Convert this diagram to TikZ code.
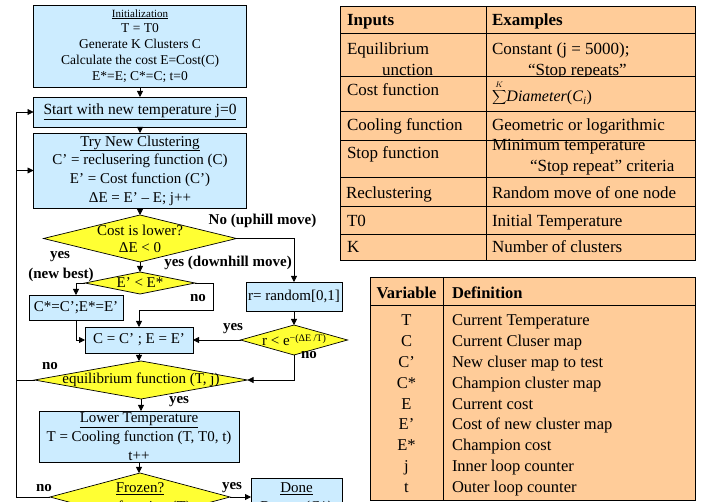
\documentclass[tikz,border=0pt]{standalone}
\usepackage{fontspec}
\setmainfont{Liberation Serif}
\usetikzlibrary{arrows.meta,shapes.geometric}
\definecolor{boxblue}{HTML}{CCECFF}
\definecolor{diayellow}{HTML}{FFFF33}
\definecolor{peach}{HTML}{FFCC99}
\newcommand{\myfs}[2]{\fontsize{#1}{#2}\selectfont}
\begin{document}
\begin{tikzpicture}[x=1pt,y=-1pt,
 every node/.style={inner sep=0pt, outer sep=0pt},
 fbox/.style={draw=black, line width=0.7pt, fill=boxblue, rectangle, align=center, font=\myfs{15}{18.7}},
 dia/.style={draw=black, line width=0.7pt, fill=diayellow, diamond},
 txt/.style={align=center, font=\myfs{15}{17}},
 lbl/.style={font=\bfseries\myfs{15}{18}},
 arr/.style={draw=black, line width=0.8pt, -{Triangle[length=6pt,width=6pt]}},
 ln/.style={draw=black, line width=0.8pt},
 trow/.style={draw=black, line width=0.8pt, fill=peach},
 ta/.style={anchor=base west, font=\myfs{17}{20}},
 tb/.style={anchor=base west, font=\bfseries\myfs{17}{20}},
 vc/.style={anchor=base, font=\myfs{16.5}{20}},
 vd/.style={anchor=base west, font=\myfs{16.5}{20}},
]
\useasboundingbox (0,0) rectangle (702,502);
\clip (0,0) rectangle (702,502);

% ---------------- flowchart ----------------
\node[fbox, minimum width=213pt, minimum height=82pt, font=\myfs{13.5}{15.8}] (init) at (140,46)
 {{\myfs{11}{15.8}\underline{Initialization}}\\T = T0\\Generate K Clusters C\\Calculate the cost E=Cost(C)\\E*=E; C*=C; t=0};
\node[fbox, minimum width=213pt, minimum height=30pt, font=\myfs{15.5}{18}] (start) at (140,112)
 {\underline{Start with new temperature j=0}};
\node[fbox, minimum width=213pt, minimum height=75pt] (try) at (140,170.5)
 {\underline{Try New Clustering}\\C’ = reclusering function (C)\\E’ = Cost function (C’)\\ΔE = E’ – E; j++};
\node[dia, minimum width=193pt, minimum height=47pt] (d1) at (140,238.5) {};
\node[txt] (d1t) at (d1) {Cost is lower?\\ΔE < 0};
\node[dia, minimum width=110pt, minimum height=22pt] (d2) at (140,283) {};
\node[txt] (d2t) at (d2) {E’ < E*};
\node[fbox, minimum width=94pt, minimum height=25pt] (cstar) at (76,307.5) {C*=C’;E*=E’};
\node[fbox, minimum width=108pt, minimum height=26pt] (cc) at (139,340) {C = C’ ; E = E’};
\node[fbox, minimum width=96pt, minimum height=29pt] (rand) at (294,296.5) {r= random[0,1]};
\node[dia, minimum width=107pt, minimum height=30pt] (d3) at (294,340) {};
\node[txt] (d3t) at (294,340) {r < e\raisebox{4pt}{\myfs{10}{10}−(ΔE /T)}};
\node[dia, minimum width=213pt, minimum height=38pt] (d4) at (141,380) {};
\node[txt] (d4t) at (d4) {equilibrium function (T, j)};
\node[fbox, minimum width=200pt, minimum height=51pt, font=\myfs{15}{19}] (lower) at (139,436.5)
 {\underline{Lower Temperature}\\T = Cooling function (T, T0, t)\\t++};
\node[dia, minimum width=180pt, minimum height=48pt] (d5) at (140,497) {};
\node[txt, font=\myfs{15}{19}] (d5t) at (140,499) {\underline{Frozen?}\\stop function (T)};
\node[fbox, minimum width=91pt, minimum height=42pt, font=\myfs{15}{19}] (done) at (296.5,499) {\underline{Done}\\Return (C*)};

\coordinate (loopx) at (16,0);
\coordinate (n1) at (213,310);

\draw[arr] (init.south) -- (start.north);
\draw[arr] (start.south) -- (try.north);
\draw[arr] (try.south) -- (d1.north);
\draw[arr] (d1.east) -| (rand.north);
\draw[arr] (d1.south) -- (d2.north);
\draw[arr] (d2.west) -| (cstar.north);
\draw[arr] (d2.east) -| (n1) -| (cc.north);
\draw[arr] (cstar.south) |- (cc.west);
\draw[arr] (rand.south) -- (d3.north);
\draw[arr] (d3.west) -- (cc.east);
\draw[arr] (d3.south) |- (d4.east);
\draw[arr] (cc.south) -- (cc.south |- d4.north);
\draw[arr] (d4.west) -- (d4.west -| loopx) |- (try.west);
\draw[arr] (d4.south) -- (d4.south |- lower.north);
\draw[arr] (lower.south) -- (lower.south |- d5.north);
\draw[arr] (d5.west) -- (d5.west -| loopx) |- (start.west);
\draw[arr] (d5.east) -- (d5.east -| done.west);

\node[lbl] (l1) at (262.5,221) {No (uphill move)};
\node[lbl] (l2) at (228,263) {yes (downhill move)};
\node[lbl] (l3) at (60,257) {yes};
\node[lbl] (l4) at (61,275) {(new best)};
\node[lbl] (l5) at (198,298) {no};
\node[lbl] (l6) at (233,329) {yes};
\node[lbl] (l7) at (309,355) {no};
\node[lbl] (l8) at (50,366) {no};
\node[lbl] (l9) at (179,402) {yes};
\node[lbl] (l10) at (44,488) {no};
\node[lbl] (l11) at (232,488) {yes};

% ---------------- inputs table ----------------
\draw[trow] (340,6) rectangle (486,33); \draw[trow] (486,6) rectangle (695,33);
\node[tb] (h1) at (347,26) {Inputs};
\node[tb] (h2) at (492,26) {Examples};
\draw[trow] (340,33) rectangle (486,76); \draw[trow] (486,33) rectangle (695,76);
\node[ta] (a1) at (347,55) {Equilibrium};
\node[ta] (a1b) at (382,76) {unction};
\node[ta] (b1) at (492,55) {Constant (j = 5000);};
\node[ta] (b1b) at (528,76) {“Stop repeats”};
\draw[trow] (340,76) rectangle (486,111); \draw[trow] (486,76) rectangle (695,111);
\node[ta] (a2) at (347,96) {Cost function};
\node[ta, font=\myfs{16}{20}] (b2) at (492,102) {$\displaystyle\sum^{\scriptscriptstyle K}$\textit{Diameter}(\textit{C}\textsubscript{\textit{i}})};
\draw[trow] (340,111) rectangle (486,140); \draw[trow] (486,111) rectangle (695,140);
\node[ta] (a3) at (347,131) {Cooling function};
\node[ta] (b3) at (492,131) {Geometric or logarithmic};
\draw[trow] (340,140) rectangle (486,177); \draw[trow] (486,140) rectangle (695,177);
\node[ta] (a4) at (347,159) {Stop function};
\node[ta] (b4) at (492,151) {Minimum temperature};
\node[ta] (b4b) at (530,172) {“Stop repeat” criteria};
\draw[trow] (340,177) rectangle (486,206); \draw[trow] (486,177) rectangle (695,206);
\node[ta] (a5) at (346,199) {Reclustering};
\node[ta] (b5) at (492,199) {Random move of one node};
\draw[trow] (340,206) rectangle (486,234); \draw[trow] (486,206) rectangle (695,234);
\node[ta] (a6) at (347,227) {T0};
\node[ta] (b6) at (492,227) {Initial Temperature};
\draw[trow] (340,234) rectangle (486,260); \draw[trow] (486,234) rectangle (695,260);
\node[ta] (a7) at (347,253) {K};
\node[ta] (b7) at (492,253) {Number of clusters};

% ---------------- variables table ----------------
\draw[trow] (370,277) rectangle (695,500);
\draw[ln] (370,305) -- (695,305);
\draw[ln] (443,277) -- (443,500);
\node[vc, font=\bfseries\myfs{16.5}{20}] (vh) at (406.5,299) {Variable};
\node[vd, font=\bfseries\myfs{16.5}{20}] (dh) at (452,299) {Definition};
\node[vc] (v1) at (406.5,326) {T};   \node[vd] (e1) at (452,326) {Current Temperature};
\node[vc] (v2) at (406.5,347) {C};   \node[vd] (e2) at (452,347) {Current Cluser map};
\node[vc] (v3) at (406.5,368) {C’};  \node[vd] (e3) at (452,368) {New cluser map to test};
\node[vc] (v4) at (406.5,389) {C*};  \node[vd] (e4) at (452,389) {Champion cluster map};
\node[vc] (v5) at (406.5,410) {E};   \node[vd] (e5) at (452,410) {Current cost};
\node[vc] (v6) at (406.5,430) {E’};  \node[vd] (e6) at (452,430) {Cost of new cluster map};
\node[vc] (v7) at (406.5,451) {E*};  \node[vd] (e7) at (452,451) {Champion cost};
\node[vc] (v8) at (406.5,472) {j};   \node[vd] (e8) at (452,472) {Inner loop counter};
\node[vc] (v9) at (406.5,493) {t};   \node[vd] (e9) at (452,493) {Outer loop counter};
\end{tikzpicture}
\end{document}
